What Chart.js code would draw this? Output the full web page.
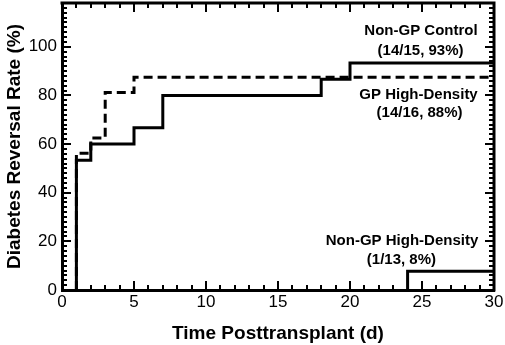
<!DOCTYPE html>
<html>
<head>
<meta charset="utf-8">
<script src="https://cdn.jsdelivr.net/npm/chart.js@4"></script>
<style>
  html, body { margin: 0; padding: 0; background: #fff; }
  #wrap { width: 505px; height: 345px; position: relative; }
</style>
</head>
<body>
<div id="wrap"><canvas id="myChartReversal"></canvas></div>
<script>
var diasControl = [1, 1, 2, 5, 7, 18, 20, 30];
var tasaControl = [0, 53.33, 60, 66.67, 80, 86.67, 93.33, 93.33];

var diasGP = [1, 1, 2, 3, 5, 30];
var tasaGP = [0, 56.25, 62.5, 81.25, 87.5, 87.5];

var diasNoGP = [24, 24, 30];
var tasaNoGP = [0, 7.69, 7.69];

// Etiquetas de texto dentro del gráfico (posición en días / %)
var etiquetasTexto = ['Non-GP Control', '(14/15, 93%)', 'GP High-Density', '(14/16, 88%)', 'Non-GP High-Density', '(1/13, 8%)'];
var etiquetasX = [24.93, 24.9, 24.76, 24.83, 23.61, 23.57];
var etiquetasY = [106.5, 98.3, 80.4, 72.8, 20.2, 12.2];

// Paso de las marcas menores en cada eje
var pasoMenorX = 1;
var pasoMenorY = 2;

function puntos(xs, ys) {
    return xs.map(function (x, i) { return { x: x, y: ys[i] }; });
}

var negro = '#000';
Chart.defaults.font.family = '"Liberation Sans", Arial, sans-serif';
Chart.defaults.color = negro;

// Recuadro superior/derecho y marcas hacia dentro en los cuatro lados
var marcasPlugin = {
    id: 'marcasInternas',
    afterDraw: function (chart) {
        var c = chart.ctx, a = chart.chartArea;
        var sx = chart.scales.x, sy = chart.scales.y;
        var v, p;
        c.save();
        c.setLineDash([]);
        c.strokeStyle = negro;

        c.lineWidth = 3;
        c.beginPath();
        c.moveTo(a.left - 1.5, a.top);
        c.lineTo(a.right, a.top);
        c.moveTo(a.right, a.top - 1.5);
        c.lineTo(a.right, a.bottom + 1.5);
        c.stroke();

        c.lineWidth = 2;
        function marcaX(valor, largo) {
            p = Math.round(sx.getPixelForValue(valor));
            c.beginPath();
            c.moveTo(p, a.bottom);
            c.lineTo(p, a.bottom - largo);
            c.stroke();
            c.beginPath();
            c.moveTo(p, a.top);
            c.lineTo(p, a.top + largo);
            c.stroke();
        }
        function marcaY(valor, largo) {
            p = Math.round(sy.getPixelForValue(valor));
            c.beginPath();
            c.moveTo(a.left, p);
            c.lineTo(a.left + largo, p);
            c.stroke();
            c.beginPath();
            c.moveTo(a.right, p);
            c.lineTo(a.right - largo, p);
            c.stroke();
        }
        for (v = sx.min; v <= sx.max; v += pasoMenorX) { marcaX(v, 5); }
        sx.ticks.forEach(function (t) { marcaX(t.value, 9); });
        for (v = sy.min; v <= sy.max; v += pasoMenorY) { marcaY(v, 5); }
        sy.ticks.forEach(function (t) { if (t.value % 20 === 0) { marcaY(t.value, 9); } });
        c.restore();
    }
};

// Texto de los grupos sobre el área del gráfico
var textoPlugin = {
    id: 'textoGrupos',
    afterDatasetsDraw: function (chart) {
        var c = chart.ctx;
        var sx = chart.scales.x, sy = chart.scales.y;
        c.save();
        c.fillStyle = negro;
        c.font = 'bold 15px "Liberation Sans", Arial, sans-serif';
        c.textAlign = 'center';
        c.textBaseline = 'middle';
        for (var i = 0; i < etiquetasTexto.length; i++) {
            c.fillText(etiquetasTexto[i], sx.getPixelForValue(etiquetasX[i]), sy.getPixelForValue(etiquetasY[i]));
        }
        c.restore();
    }
};

function sinRelleno(s) {
    s.paddingTop = 0; s.paddingBottom = 0; s.paddingLeft = 0; s.paddingRight = 0;
}

var ctx = document.getElementById('myChartReversal').getContext('2d');

var linea = {
    borderColor: negro,
    borderWidth: 3,
    pointRadius: 0,
    fill: false,
    stepped: true
};

window.myChart = new Chart(ctx, {
    type: 'line',
    data: {
        datasets: [
            Object.assign({ label: 'Non-GP Control', data: puntos(diasControl, tasaControl) }, linea),
            Object.assign({ label: 'GP High-Density', data: puntos(diasGP, tasaGP), borderDash: [9, 5] }, linea),
            Object.assign({ label: 'Non-GP High-Density', data: puntos(diasNoGP, tasaNoGP) }, linea)
        ]
    },
    options: {
        responsive: true,
        maintainAspectRatio: false,
        animation: false,
        layout: { padding: { top: 3, right: 11, left: 0, bottom: 0 } },
        plugins: {
            legend: { display: false },
            tooltip: { enabled: false }
        },
        scales: {
            x: {
                type: 'linear',
                position: 'bottom',
                min: 0,
                max: 30,
                ticks: { stepSize: 5, padding: 2, font: { size: 17 }, color: negro },
                grid: { display: false, drawTicks: false },
                border: { width: 3, color: negro },
                title: {
                    display: true,
                    text: 'Time Posttransplant (d)',
                    font: { size: 19, weight: 'bold' },
                    color: negro,
                    padding: { top: 0, bottom: 0 }
                },
                afterFit: function (s) { s.height = 55; sinRelleno(s); }
            },
            y: {
                type: 'linear',
                position: 'left',
                min: 0,
                max: 118,
                ticks: {
                    stepSize: 20,
                    padding: 5,
                    font: { size: 17 },
                    color: negro,
                    callback: function (v) { return v % 20 === 0 ? v : ''; }
                },
                grid: { display: false, drawTicks: false },
                border: { width: 3, color: negro },
                title: {
                    display: true,
                    text: 'Diabetes Reversal Rate (%)',
                    font: { size: 19, weight: 'bold' },
                    color: negro,
                    padding: { top: 3, bottom: 0 }
                },
                afterFit: function (s) { s.width = 62; sinRelleno(s); }
            }
        }
    },
    plugins: [marcasPlugin, textoPlugin]
});
</script>
</body>
</html>
